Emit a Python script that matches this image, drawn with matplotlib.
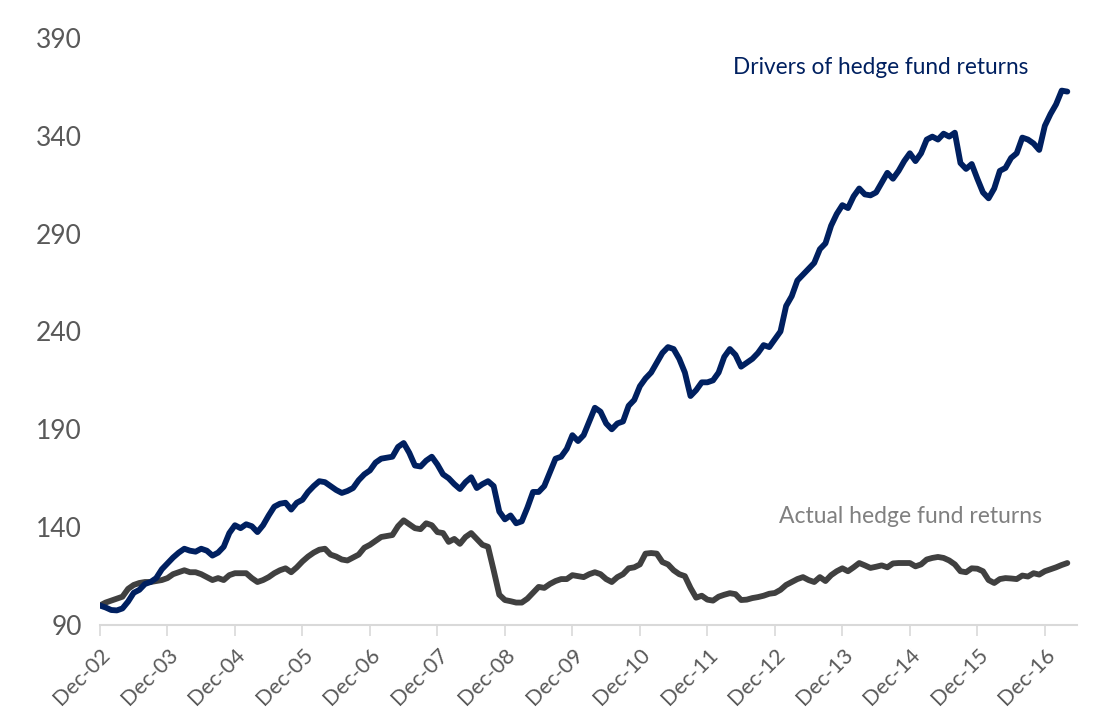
import matplotlib.pyplot as plt
import numpy as np

# monthly index values, Dec-02 = 100
drivers = [100, 99, 97.7, 97.5, 98.5, 102, 106.5, 108, 111, 112, 114, 118.5,
           121.5, 124.5, 127, 129, 128, 127.5, 129, 128, 125.5, 127, 130, 137,
           141, 139.5, 141.5, 140.5, 137.5, 141, 146, 150.5, 152, 152.5, 149, 152.5,
           154, 158, 161, 163.5, 163, 161, 159, 157.5, 158.5, 160, 164, 167,
           169, 173, 175, 175.5, 176, 181, 183, 178, 171.5, 171, 174, 176,
           172, 167, 165, 162, 159.5, 163, 165.5, 160, 162, 163.5, 161, 148,
           144, 146, 142, 143, 150, 158, 158, 161, 168, 175, 176, 180,
           187, 184, 187, 194, 201, 199, 193, 190, 193, 194, 202, 205,
           212, 216, 219, 224, 229, 232, 231, 226, 219, 207, 210, 214,
           214, 215, 219, 227, 231, 228, 222, 224, 226, 229, 233, 232,
           236, 240, 253, 258, 266, 269, 272, 275, 282, 285, 294, 300,
           304.5, 303, 309, 313, 310, 309.5, 311, 316, 321, 318, 322, 327,
           331, 327, 331, 338, 339.5, 338, 341, 339.5, 341.5, 326, 323, 325.5,
           318, 311, 308, 313, 322, 323.5, 328.6, 331, 339, 338, 336, 332.7,
           345, 351, 356, 363, 362.5]

actual = [100, 101.5, 102.5, 103.5, 104.5, 108.5, 110.5, 111.5, 112, 112, 112.5, 113,
          114, 116, 117, 118, 117, 117, 116, 114.5, 113, 114, 113, 115.5,
          116.5, 116.5, 116.5, 114, 112, 113, 114.5, 116.5, 118, 119, 117, 119.5,
          122.5, 125, 127, 128.5, 129, 126, 125, 123.5, 123, 124.5, 126, 129.5,
          131, 133, 135, 135.5, 136, 140.5, 143.5, 141.5, 139.5, 139, 142, 141,
          137.5, 137, 132.5, 134, 131.5, 135, 137, 134, 131, 130, 118, 105.5,
          102.8, 102.2, 101.5, 101.5, 103.5, 106.5, 109.5, 109, 111, 112.5, 113.5, 113.5,
          115.5, 115, 114.5, 116, 117, 116, 113.5, 112, 114.5, 116, 119, 119.5,
          121, 126.5, 126.8, 126.5, 122.2, 121, 118, 116, 115, 109, 104, 105,
          103, 102.5, 104.5, 105.5, 106.3, 105.8, 102.8, 103, 103.8, 104.3, 105, 106,
          106.4, 108, 110.5, 112, 113.5, 114.5, 113, 112, 114.5, 112.5, 115.5, 117.5,
          119, 117.5, 119.5, 121.7, 120.5, 119.2, 119.8, 120.5, 119.5, 121.5, 121.7, 121.7,
          121.7, 120, 121, 123.5, 124.3, 124.8, 124.3, 123, 121, 117.5, 117, 119,
          118.8, 117.5, 113, 111.5, 113.5, 114, 113.8, 113.5, 115.3, 114.8, 116.5, 115.8,
          117.5, 118.5, 119.5, 120.7, 121.7]

years = list(range(2, 17))
tick_labels = ['Dec-%02d' % y for y in years]
months = np.arange(len(drivers))

plt.rcParams['font.family'] = ['Lato', 'DejaVu Sans']

fig = plt.figure(figsize=(11.07, 7.26), dpi=100)
ax = fig.add_axes([0.0903, 0.139, 0.883, 0.809])

ax.plot(months, actual, color='#404040', lw=4.2, solid_capstyle='round', solid_joinstyle='round')
ax.plot(months, drivers, color='#002060', lw=4.2, solid_capstyle='round', solid_joinstyle='round')

ax.set_xlim(0, 173.8)
ax.set_ylim(90, 390)
ax.set_yticks(range(90, 391, 50))
ax.set_xticks([12 * i for i in range(len(years))])
ax.set_xticklabels(tick_labels, rotation=45, ha='right', rotation_mode='anchor')

ax.tick_params(axis='y', length=0, labelsize=19, labelcolor='#595959', pad=13)
ax.tick_params(axis='x', length=8, width=1.2, color='#d9d9d9', labelsize=15.5,
               labelcolor='#595959', pad=6)

for s in ['top', 'right', 'left']:
    ax.spines[s].set_visible(False)
ax.spines['bottom'].set_color('#d9d9d9')
ax.spines['bottom'].set_linewidth(1.5)

ax.text(112.5, 374.6, 'Drivers of hedge fund returns', color='#002060',
        fontsize=16.3, va='center', ha='left')
ax.text(120.8, 145.7, 'Actual hedge fund returns', color='#808080',
        fontsize=16.5, va='center', ha='left')

fig.savefig('out.png', dpi=100)
